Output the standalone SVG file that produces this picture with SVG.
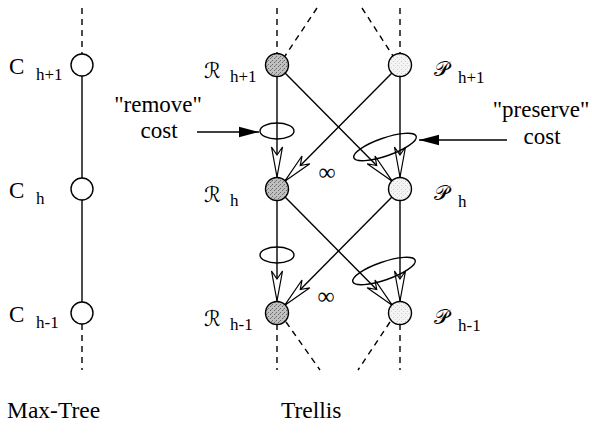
<svg xmlns="http://www.w3.org/2000/svg" width="592" height="434" viewBox="0 0 592 434">
<style>
  .t { font-family: "Liberation Serif", "Times New Roman", serif; fill: #000; }
  .big { font-size: 23px; }
  .sub { font-size: 17px; }
  .cap { font-size: 23.5px; }
  .scr { font-family: "DejaVu Serif", "DejaVu Sans", "Noto Sans", serif; font-size: 21px; }
  .node { stroke: #000; stroke-width: 1.4; }
  .c { fill: #fff; }
  .r { fill: url(#stipDark); }
  .p { fill: url(#stipLight); }
  .edge { stroke: #000; stroke-width: 1.4; fill: none; }
  .dash { stroke: #000; stroke-width: 1.4; fill: none; stroke-dasharray: 6 5; }
  .ell { stroke: #000; stroke-width: 1.4; fill: none; }
</style>
<defs>
  <pattern id="stipDark" width="4" height="4" patternUnits="userSpaceOnUse">
    <rect width="4" height="4" fill="#c0c0c0"/>
    <rect x="0" y="0" width="1" height="1" fill="#6c6c6c"/>
    <rect x="2" y="2" width="1" height="1" fill="#6c6c6c"/>
    <rect x="3" y="1" width="1" height="1" fill="#8c8c8c"/>
  </pattern>
  <pattern id="stipLight" width="4" height="4" patternUnits="userSpaceOnUse">
    <rect width="4" height="4" fill="#f4f4f4"/>
    <rect x="1" y="1" width="1" height="1" fill="#c8c8c8"/>
    <rect x="3" y="3" width="1" height="1" fill="#d4d4d4"/>
  </pattern>
  <marker id="open" viewBox="0 0 32 14" refX="31" refY="7" markerWidth="32" markerHeight="14" markerUnits="userSpaceOnUse" orient="auto">
    <path d="M31,7 L1,1.5 L9,7 L1,12.5 Z" fill="#fff" stroke="#000" stroke-width="1.2" stroke-linejoin="miter"/>
  </marker>
  <marker id="solid" viewBox="0 0 22 12" refX="21" refY="6" markerWidth="22" markerHeight="12" markerUnits="userSpaceOnUse" orient="auto">
    <path d="M21,6 L1,0.8 L1,11.2 Z" fill="#000"/>
  </marker>
</defs>
<rect width="592" height="434" fill="#fff"/>

<g id="connectors">
  <line class="dash" x1="82" y1="8" x2="82" y2="54"/>
  <line class="edge" x1="82" y1="76" x2="82" y2="178"/>
  <line class="edge" x1="82" y1="200" x2="82" y2="302"/>
  <line class="dash" x1="82" y1="324" x2="82" y2="370"/>
  <line class="dash" x1="277" y1="8" x2="277" y2="54"/>
  <line class="dash" x1="317" y1="8" x2="285" y2="56"/>
  <line class="dash" x1="362" y1="8" x2="393" y2="56"/>
  <line class="dash" x1="400" y1="8" x2="400" y2="54"/>
  <line class="dash" x1="277" y1="324" x2="277" y2="370"/>
  <line class="dash" x1="286" y1="322" x2="320" y2="370"/>
  <line class="dash" x1="390" y1="322" x2="358" y2="370"/>
  <line class="dash" x1="400" y1="324" x2="400" y2="370"/>
  <line class="edge" x1="277" y1="76" x2="277" y2="177" marker-end="url(#open)"/>
  <line class="edge" x1="400" y1="76" x2="400" y2="177" marker-end="url(#open)"/>
  <line class="edge" x1="284.8" y1="72.8" x2="392.2" y2="181.2" marker-end="url(#open)"/>
  <line class="edge" x1="392.2" y1="72.8" x2="284.8" y2="181.2" marker-end="url(#open)"/>
  <line class="edge" x1="277" y1="200" x2="277" y2="301" marker-end="url(#open)"/>
  <line class="edge" x1="400" y1="200" x2="400" y2="301" marker-end="url(#open)"/>
  <line class="edge" x1="284.8" y1="196.8" x2="392.2" y2="305.2" marker-end="url(#open)"/>
  <line class="edge" x1="392.2" y1="196.8" x2="284.8" y2="305.2" marker-end="url(#open)"/>
  <ellipse class="ell" cx="277" cy="131" rx="17" ry="8"/>
  <ellipse class="ell" cx="277" cy="255" rx="17" ry="8"/>
  <ellipse class="ell" cx="385" cy="147" rx="33" ry="9" transform="rotate(-19 385 147)"/>
  <ellipse class="ell" cx="384" cy="271" rx="33" ry="9" transform="rotate(-19 384 271)"/>
  <line class="edge" x1="197" y1="132" x2="259" y2="132" marker-end="url(#solid)"/>
  <line class="edge" x1="507" y1="140" x2="419" y2="140" marker-end="url(#solid)"/>
</g>

<g id="C_h1"><circle class="node c" cx="82" cy="65" r="11"/>
  <text class="t big" x="9" y="74">C</text><text class="t sub" x="36" y="80">h+1</text></g>
<g id="C_h"><circle class="node c" cx="82" cy="189" r="11"/>
  <text class="t big" x="9" y="198">C</text><text class="t sub" x="36" y="204">h</text></g>
<g id="C_h-1"><circle class="node c" cx="82" cy="313" r="11"/>
  <text class="t big" x="9" y="322">C</text><text class="t sub" x="36" y="328">h-1</text></g>

<g id="R_h1"><circle class="node r" cx="277" cy="65" r="11.5"/>
  <text class="scr" x="204" y="78">ℛ</text><text class="t sub" x="230" y="82">h+1</text></g>
<g id="R_h"><circle class="node r" cx="277" cy="189" r="11.5"/>
  <text class="scr" x="204" y="202">ℛ</text><text class="t sub" x="230" y="206">h</text></g>
<g id="R_h-1"><circle class="node r" cx="277" cy="313" r="11.5"/>
  <text class="scr" x="204" y="326">ℛ</text><text class="t sub" x="230" y="330">h-1</text></g>

<g id="P_h1"><circle class="node p" cx="400" cy="65" r="11.5"/>
  <text class="scr" x="434" y="76">𝒫</text><text class="t sub" x="458" y="83">h+1</text></g>
<g id="P_h"><circle class="node p" cx="400" cy="189" r="11.5"/>
  <text class="scr" x="434" y="200">𝒫</text><text class="t sub" x="458" y="207">h</text></g>
<g id="P_h-1"><circle class="node p" cx="400" cy="313" r="11.5"/>
  <text class="scr" x="434" y="324">𝒫</text><text class="t sub" x="458" y="331">h-1</text></g>

<g id="inf1"><text class="t" x="327" y="180" font-size="24" text-anchor="middle">∞</text></g>
<g id="inf2"><text class="t" x="326" y="304" font-size="24" text-anchor="middle">∞</text></g>

<g id="remove_label">
  <text class="t big" x="158" y="112" text-anchor="middle">"remove"</text>
  <text class="t big" x="159" y="138" text-anchor="middle">cost</text>
</g>
<g id="preserve_label">
  <text class="t big" x="541" y="117" text-anchor="middle">"preserve"</text>
  <text class="t big" x="542" y="144" text-anchor="middle">cost</text>
</g>

<text class="t cap" x="7" y="418">Max-Tree</text>
<text class="t cap" x="281" y="418">Trellis</text>
</svg>
